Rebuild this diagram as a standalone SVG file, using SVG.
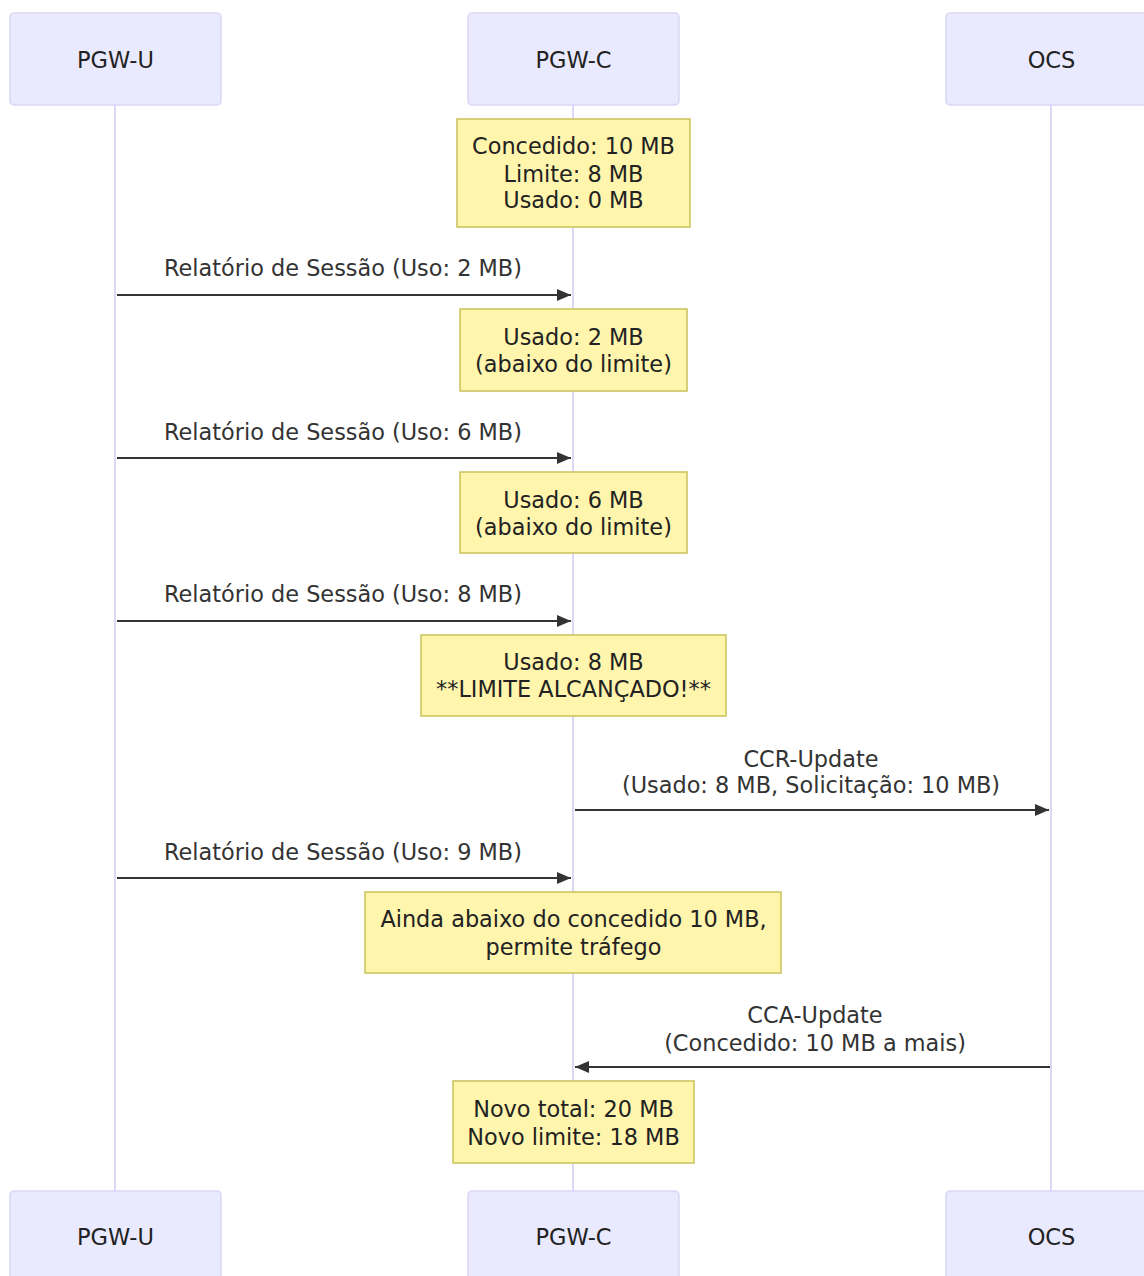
<svg xmlns="http://www.w3.org/2000/svg" width="1144" height="1276" viewBox="0 0 1144 1276">
<defs>
<style>
.actor{fill:#eaeaff;stroke:#dcd6f5;stroke-width:1.5}
.atext{font-family:"DejaVu Sans",sans-serif;font-size:22.5px;fill:#222;text-anchor:middle;dominant-baseline:central}
.life{stroke:#ddd6f7;stroke-width:2;fill:none}
.note{fill:#fff5ad;stroke:#c9c25a;stroke-width:1.5}
.ntext{font-family:"DejaVu Sans",sans-serif;font-size:22.4px;fill:#222;text-anchor:middle;dominant-baseline:central}
.msg{stroke:#333;stroke-width:2;fill:none}
.mtext{font-family:"DejaVu Sans",sans-serif;font-size:22.4px;fill:#333;text-anchor:middle;dominant-baseline:central}
</style>
<marker id="arr" viewBox="0 0 14 12" refX="14" refY="6" markerWidth="14" markerHeight="12" markerUnits="userSpaceOnUse" orient="auto">
<path d="M0,0 L14,6 L0,12 Z" fill="#333"/>
</marker>
</defs>
<rect width="1144" height="1276" fill="#fff"/>
<g id="lifelines">
<line class="life" x1="115" y1="105" x2="115" y2="1191"/>
<line class="life" x1="573" y1="105" x2="573" y2="1191"/>
<line class="life" x1="1051" y1="105" x2="1051" y2="1191"/>
</g>
<g id="actor-pgwu-top"><rect class="actor" x="10" y="13" width="211" height="92" rx="4"/><text class="atext" x="115.5" y="60">PGW-U</text></g>
<g id="actor-pgwc-top"><rect class="actor" x="468" y="13" width="211" height="92" rx="4"/><text class="atext" x="573.5" y="60">PGW-C</text></g>
<g id="actor-ocs-top"><rect class="actor" x="946" y="13" width="211" height="92" rx="4"/><text class="atext" x="1051.5" y="60">OCS</text></g>
<g id="actor-pgwu-bottom"><rect class="actor" x="10" y="1191" width="211" height="92" rx="4"/><text class="atext" x="115.5" y="1237">PGW-U</text></g>
<g id="actor-pgwc-bottom"><rect class="actor" x="468" y="1191" width="211" height="92" rx="4"/><text class="atext" x="573.5" y="1237">PGW-C</text></g>
<g id="actor-ocs-bottom"><rect class="actor" x="946" y="1191" width="211" height="92" rx="4"/><text class="atext" x="1051.5" y="1237">OCS</text></g>
<g id="note1"><rect class="note" x="457" y="119" width="233" height="108"/><text class="ntext" x="573.5" y="146">Concedido: 10 MB</text><text class="ntext" x="573.5" y="174">Limite: 8 MB</text><text class="ntext" x="573.5" y="200">Usado: 0 MB</text></g>
<g id="note2"><rect class="note" x="460" y="309" width="227" height="82"/><text class="ntext" x="573.5" y="337">Usado: 2 MB</text><text class="ntext" x="573.5" y="364">(abaixo do limite)</text></g>
<g id="note3"><rect class="note" x="460" y="472" width="227" height="81"/><text class="ntext" x="573.5" y="500">Usado: 6 MB</text><text class="ntext" x="573.5" y="527">(abaixo do limite)</text></g>
<g id="note4"><rect class="note" x="421" y="635" width="305" height="81"/><text class="ntext" x="573.5" y="662">Usado: 8 MB</text><text class="ntext" x="573.5" y="689">**LIMITE ALCANÇADO!**</text></g>
<g id="note5"><rect class="note" x="365" y="892" width="416" height="81"/><text class="ntext" x="573.5" y="919">Ainda abaixo do concedido 10 MB,</text><text class="ntext" x="573.5" y="947">permite tráfego</text></g>
<g id="note6"><rect class="note" x="453" y="1081" width="241" height="82"/><text class="ntext" x="573.5" y="1109">Novo total: 20 MB</text><text class="ntext" x="573.5" y="1137">Novo limite: 18 MB</text></g>
<g id="connectors">
<line class="msg" x1="117" y1="295" x2="571" y2="295" marker-end="url(#arr)"/>
<text class="mtext" x="343" y="268">Relatório de Sessão (Uso: 2 MB)</text>
<line class="msg" x1="117" y1="458" x2="571" y2="458" marker-end="url(#arr)"/>
<text class="mtext" x="343" y="432">Relatório de Sessão (Uso: 6 MB)</text>
<line class="msg" x1="117" y1="621" x2="571" y2="621" marker-end="url(#arr)"/>
<text class="mtext" x="343" y="594">Relatório de Sessão (Uso: 8 MB)</text>
<line class="msg" x1="575" y1="810" x2="1049" y2="810" marker-end="url(#arr)"/>
<text class="mtext" x="811" y="759">CCR-Update</text>
<text class="mtext" x="811" y="785">(Usado: 8 MB, Solicitação: 10 MB)</text>
<line class="msg" x1="117" y1="878" x2="571" y2="878" marker-end="url(#arr)"/>
<text class="mtext" x="343" y="852">Relatório de Sessão (Uso: 9 MB)</text>
<line class="msg" x1="1050" y1="1067" x2="575" y2="1067" marker-end="url(#arr)"/>
<text class="mtext" x="815" y="1015">CCA-Update</text>
<text class="mtext" x="815" y="1043">(Concedido: 10 MB a mais)</text>
</g>
</svg>
